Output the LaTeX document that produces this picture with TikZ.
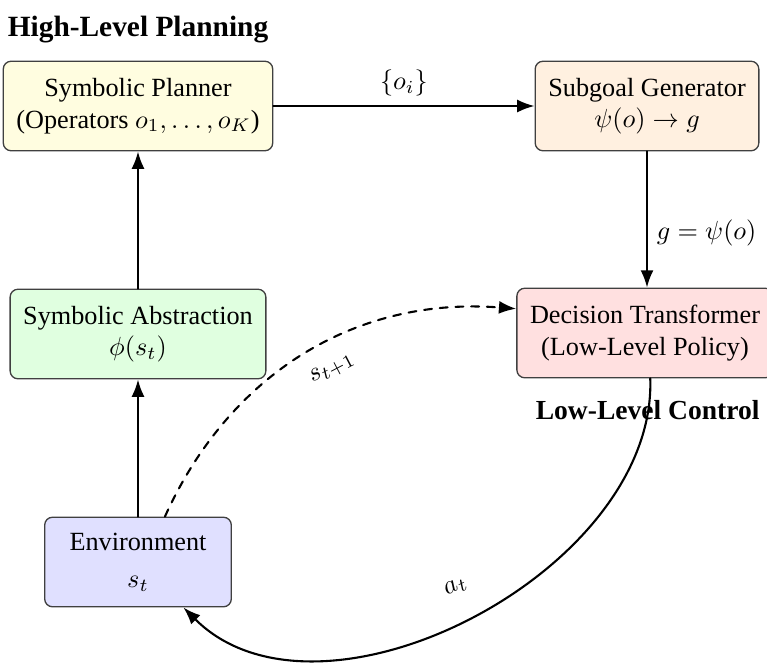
\documentclass[tikz,border=0pt]{standalone}
\usepackage[no-math]{fontspec}
\setmainfont{Liberation Serif}
\usetikzlibrary{positioning,arrows.meta}

\begin{document}
\begin{tikzpicture}[x=0.01339cm, y=-0.01339cm, line cap=round,
  box/.style={draw=black!75, line width=0.5pt, rounded corners=3pt, align=center,
    minimum height=1.2cm, inner sep=5pt},
  flow/.style={thick, -Latex},
  region/.style={font=\fontsize{11.2}{13}\selectfont\bfseries}]
  % canvas
  \useasboundingbox (0,0) rectangle (767,664);

  % high-level boxes
  \node[box, fill=yellow!12] (planner) at (138,106) {Symbolic Planner\\(Operators $o_1,\dots,o_K$)};
  \node[box, fill=orange!12] (subgoal) at (647,106) {Subgoal Generator\\$\psi(o)\to g$};
  \node[region, above=3pt of planner] (hl) {High-Level Planning};

  % low-level boxes
  \node[box, fill=red!12] (dt) at (645,333) {Decision Transformer\\(Low-Level Policy)};
  \node[box, fill=green!12] (abstr) at (138,334) {Symbolic Abstraction\\$\phi(s_t)$};
  \node[box, fill=blue!12, minimum width=2.5cm] (env) at (138,562) {Environment\\[2pt]$s_t$};
  \node[region, font=\fontsize{10.5}{13}\selectfont\bfseries, below=5pt of dt, xshift=1pt] (ll) {Low-Level Control};

  % connections
  \draw[flow] (planner) -- node[above] {$\{o_i\}$} (subgoal);
  \draw[flow] (subgoal.south) -- node[right, pos=0.6] {$g=\psi(o)$} (subgoal.south |- dt.north);
  \draw[flow] (env) -- (abstr);
  \draw[flow] (abstr) -- (planner);
  \draw[flow, dashed] (env) to[bend left=35] node[below=3pt, sloped, pos=0.54] {$s_{t+1}$} (dt);
  \draw[flow] ([xshift=2pt]dt.south) to[out=-88, in=-45, looseness=0.95] node[above=6pt, sloped, pos=0.5] {$a_t$} (env);
\end{tikzpicture}
\end{document}
